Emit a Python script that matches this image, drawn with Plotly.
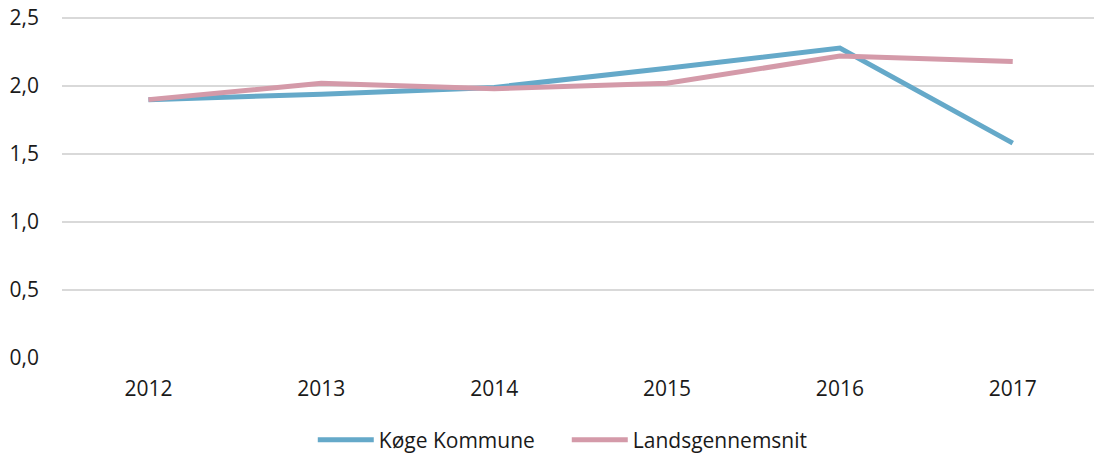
import plotly.graph_objects as go

years = ["2012", "2013", "2014", "2015", "2016", "2017"]
koege = [1.90, 1.94, 1.99, 2.13, 2.28, 1.58]
lands = [1.90, 2.02, 1.98, 2.02, 2.22, 2.18]
y_ticks = [0, 0.5, 1.0, 1.5, 2.0, 2.5]

fig = go.Figure()
fig.add_trace(go.Scatter(x=years, y=koege, mode="lines", name="Køge Kommune",
                         line=dict(color="#65a9c9", width=5)))
fig.add_trace(go.Scatter(x=years, y=lands, mode="lines", name="Landsgennemsnit",
                         line=dict(color="#d49aa9", width=5)))

fig.update_layout(
    width=1094, height=456,
    margin=dict(l=62, r=0, t=16, b=98, autoexpand=False),
    paper_bgcolor="white", plot_bgcolor="white",
    separators=", ",
    font=dict(family="Open Sans", size=21, color="#1a1a1a"),
    showlegend=True,
    legend=dict(orientation="h", x=0.243, xanchor="left", y=-0.24, yanchor="middle",
                font=dict(size=21), traceorder="normal", itemwidth=56,
                entrywidth=183),
    xaxis=dict(type="category", range=[-0.5, 5.47], showgrid=False, zeroline=False,
               showline=False, ticks="", ticklabelstandoff=16, automargin=False,
               tickfont=dict(size=21)),
    yaxis=dict(range=[0, 2.515], tickvals=y_ticks, tickformat=".1f", showgrid=True,
               gridcolor="#d9d9d9", gridwidth=1.5, zeroline=False, showline=False,
               ticks="", ticklabelstandoff=22, automargin=False,
               tickfont=dict(size=21)),
)

fig.write_html("out.html", config={"displayModeBar": False},
               post_script="document.body.style.margin='0';")
